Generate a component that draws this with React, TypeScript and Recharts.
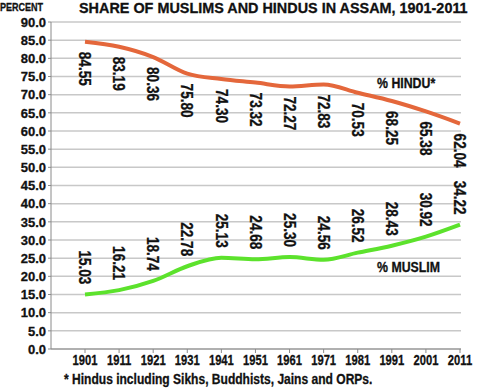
import * as React from "react";
import { CartesianGrid, LabelList, Line, LineChart, XAxis, YAxis } from "recharts";

// Census shares (%) for Assam.
const YEARS = ["1901", "1911", "1921", "1931", "1941", "1951", "1961", "1971", "1981", "1991", "2001", "2011"];
const HINDU = [84.55, 83.19, 80.36, 75.8, 74.3, 73.32, 72.27, 72.83, 70.53, 68.25, 65.38, 62.04];
const MUSLIM = [15.03, 16.21, 18.74, 22.78, 25.13, 24.68, 25.3, 24.56, 26.52, 28.43, 30.92, 34.22];
const Y_TICKS = [0, 5, 10, 15, 20, 25, 30, 35, 40, 45, 50, 55, 60, 65, 70, 75, 80, 85, 90];

// No condensed face is installed, so Arial-metric bold text is squeezed horizontally
// and given a hairline stroke to get closer to the heavy original.
const FONT = '"Liberation Sans", Arial, sans-serif';
const INK = "#111";
const HINDU_COLOR = "#e4673b";
const MUSLIM_COLOR = "#5ce22c";

const rows = YEARS.map((year, i) => ({ year, hindu: HINDU[i], muslim: MUSLIM[i] }));

// Values are written vertically (reading downwards) next to each point.
function rotatedLabel(below: boolean) {
  return (props: any) => {
    const { x, y, value } = props;
    const y0 = below ? Number(y) + 10 : Number(y) - 10;
    return (
      <text
        x={0}
        y={0}
        transform={`translate(${x}, ${y0}) rotate(90) scale(0.85, 1)`}
        textAnchor={below ? "start" : "end"}
        dy="0.36em"
        fontFamily={FONT}
        fontWeight="bold"
        fontSize={16}
        fill={INK}
        stroke={INK}
        strokeWidth={0.3}
      >
        {Number(value).toFixed(2)}
      </text>
    );
  };
}

function YearTick(props: any) {
  const { x, y, payload } = props;
  return (
    <text
      x={0}
      y={0}
      transform={`translate(${x}, ${y}) scale(0.8, 1)`}
      textAnchor="middle"
      dy="0.72em"
      fontFamily={FONT}
      fontWeight="bold"
      fontSize={14}
      fill={INK}
      stroke={INK}
      strokeWidth={0.3}
    >
      {payload.value}
    </text>
  );
}

function PercentTick(props: any) {
  const { x, y, payload } = props;
  return (
    <text
      x={x}
      y={y}
      textAnchor="end"
      dy="0.36em"
      fontFamily={FONT}
      fontWeight="bold"
      fontSize={13}
      fill={INK}
      stroke={INK}
      strokeWidth={0.3}
    >
      {Number(payload.value).toFixed(1)}
    </text>
  );
}

function overlay(squeeze: number): React.CSSProperties {
  return {
    position: "absolute",
    fontFamily: FONT,
    fontWeight: "bold",
    color: INK,
    WebkitTextStroke: `0.3px ${INK}`,
    lineHeight: 1,
    whiteSpace: "nowrap",
    transform: `scaleX(${squeeze})`,
    transformOrigin: "left top",
  };
}

export default function App() {
  return (
    <div style={{ position: "absolute", left: 0, top: 0, width: 482, height: 388, background: "#fff" }}>
      <LineChart width={482} height={388} data={rows} margin={{ top: 22, right: 21, left: 0, bottom: 9 }}>
        <CartesianGrid vertical={false} stroke="#c8c8c8" strokeWidth={1.5} />
        <XAxis
          dataKey="year"
          height={30}
          interval={0}
          padding={{ left: 34, right: 1 }}
          stroke="#8a8a8a"
          tickSize={4}
          tick={<YearTick />}
        />
        <YAxis
          width={51}
          domain={[0, 90]}
          ticks={Y_TICKS}
          interval={0}
          stroke="#8a8a8a"
          tickSize={3}
          tick={<PercentTick />}
        />
        <Line
          dataKey="hindu"
          type="monotone"
          stroke={HINDU_COLOR}
          strokeWidth={4}
          dot={false}
          isAnimationActive={false}
        >
          <LabelList dataKey="hindu" content={rotatedLabel(true)} />
        </Line>
        <Line
          dataKey="muslim"
          type="monotone"
          stroke={MUSLIM_COLOR}
          strokeWidth={4}
          dot={false}
          isAnimationActive={false}
        >
          <LabelList dataKey="muslim" content={rotatedLabel(false)} />
        </Line>
      </LineChart>
      <div style={{ ...overlay(0.82), left: 0, top: 2, fontSize: 11 }}>PERCENT</div>
      <div style={{ ...overlay(0.96), left: 79, top: 0, fontSize: 15 }}>SHARE OF MUSLIMS AND HINDUS IN ASSAM, 1901-2011</div>
      <div style={{ ...overlay(0.88), left: 377, top: 76, fontSize: 14 }}>% HINDU*</div>
      <div style={{ ...overlay(0.88), left: 377, top: 260, fontSize: 14 }}>% MUSLIM</div>
      <div style={{ ...overlay(0.86), left: 64, top: 372, fontSize: 14 }}>* Hindus including Sikhs, Buddhists, Jains and ORPs.</div>
    </div>
  );
}
